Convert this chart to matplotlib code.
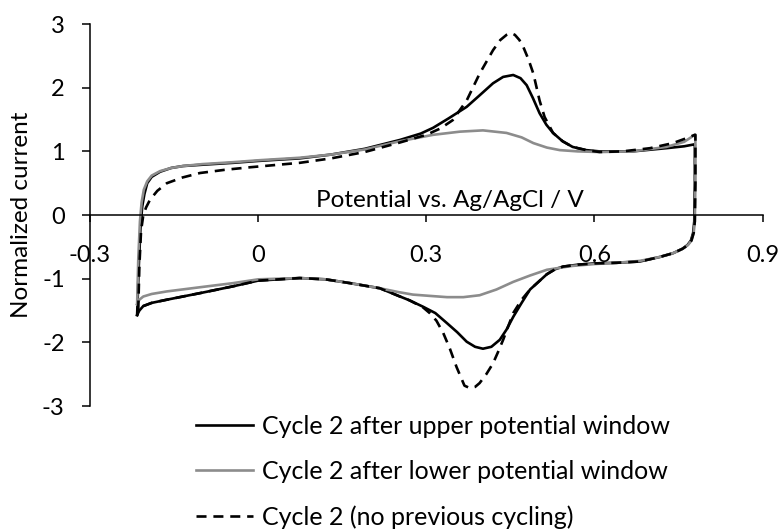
import matplotlib
matplotlib.use('Agg')
import matplotlib.pyplot as plt

plt.rcParams['font.family'] = ['Lato', 'DejaVu Sans']
plt.rcParams['axes.unicode_minus'] = False

# Cycle 2 after upper potential window (black, solid)
upper_x = [-0.216, -0.213, -0.210, -0.207, -0.203, -0.198, -0.190, -0.175, -0.155, -0.134, -0.10, -0.045,
           0.0, 0.074, 0.13, 0.19, 0.253, 0.29, 0.312, 0.34, 0.372, 0.395, 0.419, 0.437, 0.455, 0.468,
           0.479, 0.490, 0.502, 0.514, 0.526, 0.543, 0.561, 0.585, 0.609, 0.668, 0.728, 0.760, 0.778,
           0.779, 0.779, 0.778, 0.776, 0.772, 0.766, 0.757, 0.740, 0.716, 0.681, 0.640, 0.600, 0.570,
           0.544, 0.530, 0.515, 0.500, 0.485, 0.470, 0.455, 0.443, 0.431, 0.416, 0.401, 0.387, 0.372,
           0.355, 0.337, 0.316, 0.294, 0.270, 0.253, 0.217, 0.164, 0.12, 0.074, 0.0, -0.045, -0.10,
           -0.163, -0.190, -0.205, -0.212, -0.216]
upper_y = [-1.57, -0.80, -0.20, 0.13, 0.33, 0.50, 0.60, 0.68, 0.74, 0.77, 0.79, 0.82,
           0.85, 0.89, 0.95, 1.04, 1.18, 1.28, 1.37, 1.52, 1.70, 1.88, 2.07, 2.17, 2.20, 2.15,
           2.04, 1.84, 1.60, 1.42, 1.29, 1.16, 1.07, 1.02, 1.00, 1.00, 1.05, 1.08, 1.11,
           1.11, 0.50, -0.10, -0.28, -0.40, -0.47, -0.53, -0.60, -0.66, -0.73, -0.75, -0.76, -0.78,
           -0.81, -0.85, -0.93, -1.05, -1.17, -1.38, -1.60, -1.80, -1.96, -2.07, -2.10, -2.07, -1.99,
           -1.84, -1.70, -1.54, -1.44, -1.34, -1.28, -1.15, -1.07, -1.01, -0.99, -1.03, -1.12, -1.22,
           -1.33, -1.38, -1.43, -1.50, -1.57]

# Cycle 2 after lower potential window (grey)
lower_x = [-0.216, -0.214, -0.211, -0.208, -0.204, -0.198, -0.190, -0.175, -0.155, -0.134, -0.10, -0.045,
           0.0, 0.074, 0.13, 0.19, 0.253, 0.312, 0.36, 0.401, 0.443, 0.470, 0.491, 0.515, 0.538, 0.570,
           0.609, 0.668, 0.728, 0.760, 0.779,
           0.780, 0.780, 0.779, 0.777, 0.773, 0.767, 0.757, 0.740, 0.716, 0.681, 0.640, 0.600, 0.560,
           0.515, 0.485, 0.455, 0.425, 0.395, 0.366, 0.337, 0.306, 0.276, 0.250, 0.217, 0.164, 0.12,
           0.074, 0.0, -0.045, -0.10, -0.163, -0.190, -0.205, -0.212, -0.216]
lower_y = [-1.40, -0.70, -0.10, 0.20, 0.40, 0.53, 0.62, 0.69, 0.74, 0.77, 0.80, 0.83,
           0.86, 0.90, 0.95, 1.03, 1.16, 1.26, 1.31, 1.33, 1.29, 1.22, 1.13, 1.06, 1.02, 1.00,
           0.99, 1.00, 1.07, 1.15, 1.26,
           1.26, 0.50, -0.10, -0.28, -0.40, -0.47, -0.53, -0.60, -0.66, -0.72, -0.75, -0.77, -0.80,
           -0.86, -0.95, -1.05, -1.17, -1.26, -1.29, -1.29, -1.27, -1.25, -1.21, -1.15, -1.07, -1.01,
           -0.99, -1.01, -1.07, -1.13, -1.20, -1.24, -1.28, -1.33, -1.40]

# Cycle 2, no previous cycling (black, dashed)
fresh_x = [-0.214, -0.212, -0.209, -0.205, -0.200, -0.193, -0.180, -0.163, -0.135, -0.104, -0.060, -0.015,
           0.074, 0.13, 0.19, 0.253, 0.30, 0.325, 0.347, 0.372, 0.395, 0.419, 0.432, 0.443, 0.451,
           0.458, 0.466, 0.473, 0.482, 0.491, 0.502, 0.511, 0.526, 0.543, 0.561, 0.585, 0.609, 0.650,
           0.699, 0.740, 0.765, 0.779,
           0.780, 0.780, 0.779, 0.777, 0.773, 0.767, 0.757, 0.740, 0.716, 0.681, 0.640, 0.600, 0.570,
           0.544, 0.530, 0.515, 0.500, 0.485, 0.470, 0.455, 0.446, 0.437, 0.428, 0.419, 0.407, 0.395,
           0.387, 0.378, 0.368, 0.354, 0.342, 0.330, 0.318, 0.306, 0.294, 0.270, 0.253, 0.217, 0.164,
           0.12, 0.074, 0.0, -0.045, -0.10, -0.163, -0.190, -0.205, -0.212, -0.214]
fresh_y = [-1.50, -0.80, -0.25, 0.00, 0.12, 0.24, 0.38, 0.50, 0.59, 0.66, 0.71, 0.75,
           0.82, 0.89, 0.99, 1.14, 1.26, 1.36, 1.49, 1.80, 2.22, 2.59, 2.75, 2.83, 2.86,
           2.83, 2.75, 2.64, 2.45, 2.22, 1.80, 1.54, 1.29, 1.16, 1.07, 1.02, 0.99, 1.00,
           1.05, 1.13, 1.21, 1.26,
           1.26, 0.50, -0.10, -0.28, -0.40, -0.47, -0.53, -0.60, -0.66, -0.73, -0.75, -0.76, -0.78,
           -0.81, -0.85, -0.93, -1.05, -1.17, -1.33, -1.54, -1.75, -1.96, -2.15, -2.33, -2.50, -2.64,
           -2.70, -2.72, -2.68, -2.39, -2.10, -1.85, -1.66, -1.54, -1.45, -1.34, -1.28, -1.15, -1.07,
           -1.01, -0.99, -1.03, -1.12, -1.22, -1.33, -1.38, -1.43, -1.48, -1.50]

labels = ['Cycle 2 after upper potential window',
          'Cycle 2 after lower potential window',
          'Cycle 2 (no previous cycling)']

x_ticks = [-0.3, 0, 0.3, 0.6, 0.9]
x_tick_labels = ['-0.3', '0', '0.3', '0.6', '0.9']
y_ticks = [-3, -2, -1, 0, 1, 2, 3]
y_tick_labels = ['-3', '-2', '-1', '0', '1', '2', '3']

fig = plt.figure(figsize=(7.83, 5.29), dpi=100)
ax = fig.add_axes([0.115, 0.2325, 0.859, 0.722])

lw = 1.9
ax.plot(upper_x, upper_y, color='black', linewidth=lw, label=labels[0])
ax.plot(lower_x, lower_y, color='#8c8c8c', linewidth=lw, label=labels[1])
ax.plot(fresh_x, fresh_y, color='black', linewidth=lw, linestyle=(0, (3.8, 2.6)), label=labels[2])

ax.set_xlim(-0.3, 0.9)
ax.set_ylim(-3, 3)
ax.spines['top'].set_visible(False)
ax.spines['right'].set_visible(False)
ax.spines['bottom'].set_position(('data', 0))
for s in ('left', 'bottom'):
    ax.spines[s].set_linewidth(1.1)

ax.set_xticks(x_ticks)
ax.set_xticklabels(x_tick_labels)
ax.set_yticks(y_ticks)
ax.set_yticklabels(y_tick_labels)
ax.tick_params(axis='x', direction='out', length=5, width=1.1, pad=16.5, labelsize=17)
ax.tick_params(axis='y', direction='out', length=5.8, width=1.1, pad=12.5, labelsize=17)

ax.text(0.535, 0.539, 'Potential vs. Ag/AgCl / V', transform=ax.transAxes,
        ha='center', va='center', fontsize=17.5)
fig.text(22 / 783, 1 - 215 / 529, 'Normalized current', rotation=90,
         ha='center', va='center', fontsize=17.5)

fig.legend(loc='center left', bbox_to_anchor=(196 / 783, 1 - 472 / 529), frameon=False,
           fontsize=18, handlelength=2.28, handletextpad=0.36, labelspacing=0.88,
           borderpad=0, borderaxespad=0)

fig.savefig('out.png', dpi=100)
